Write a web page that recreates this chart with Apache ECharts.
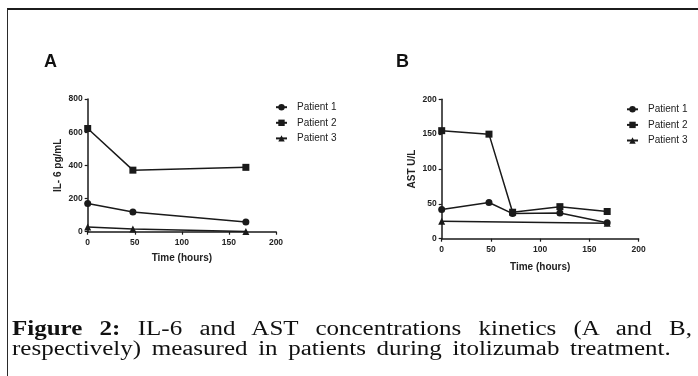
<!DOCTYPE html>
<html>
<head>
<meta charset="utf-8">
<script src="https://cdn.jsdelivr.net/npm/echarts@6/dist/echarts.min.js"></script>
<style>
  html, body { margin: 0; padding: 0; background: #fff; }
  #wrap { position: relative; width: 698px; height: 376px; overflow: hidden; background: #fff; }
  #chart { position: absolute; left: 0; top: 0; width: 698px; height: 376px; }
  #frame { position: absolute; left: 7px; top: 8px; width: 700px; height: 400px;
           border-top: 2px solid #1c1c1c; border-left: 1.5px solid #2a2a2a; pointer-events: none; }
  .cap { position: absolute; left: 12px; width: 544px; font-family: "Liberation Serif", serif;
         font-size: 20px; line-height: 20px; color: #111; word-spacing: 3.5px; white-space: nowrap;
         transform: scaleX(1.25); transform-origin: 0 0; }
  #cap1 { top: 317.5px; text-align: justify; text-align-last: justify; white-space: normal; }
  #cap2 { top: 337.5px; }
</style>
</head>
<body>
<div id="wrap">
  <div id="chart"></div>
  <div id="frame"></div>
  <div class="cap" id="cap1"><b>Figure 2:</b> IL-6 and AST concentrations kinetics (A and B,</div>
  <div class="cap" id="cap2">respectively) measured in patients during itolizumab treatment.</div>
</div>
<script>
// ---- Data ----
const seriesNames = ['Patient 1', 'Patient 2', 'Patient 3'];
const panelTitles = ['A', 'B'];
const xAxisName = 'Time (hours)';
const yAxisNameA = 'IL- 6 pg/mL';
const yAxisNameB = 'AST U/L';

// Panel A: IL-6 (pg/mL) vs time (hours)
const il6Patient1 = [[0, 170], [48, 119], [168, 58]];
const il6Patient2 = [[0, 622], [48, 371], [168, 388]];
const il6Patient3 = [[0, 28], [48, 17], [168, 1]];

// Panel B: AST (U/L) vs time (hours)
const astPatient1 = [[0, 42], [48, 52], [72, 36], [120, 37], [168, 23]];
const astPatient2 = [[0, 155], [48, 150], [72, 38], [120, 46], [168, 39]];
const astPatient3 = [[0, 25], [168, 22]];

const symbols = ['circle', 'rect', 'triangle'];
const symbolSizes = [7, 7, 7];

const chart = echarts.init(document.getElementById('chart'), null, { renderer: 'canvas' });
const INK = '#1a1a1a';
const SANS = 'Liberation Sans, Arial, sans-serif';
const axisFont = { fontFamily: SANS, fontWeight: 'bold', fontSize: 8.5, color: '#222' };
const nameFont = { fontFamily: SANS, fontWeight: 'bold', fontSize: 10, color: '#222' };

function xAxis(gridIndex, gap) {
  return {
    type: 'value', gridIndex, min: 0, max: 200, interval: 50,
    name: xAxisName, nameLocation: 'middle', nameGap: gap, nameTextStyle: nameFont,
    axisLine: { show: true, onZero: false, lineStyle: { color: INK, width: 1.5 } },
    axisTick: { show: true, length: 3, lineStyle: { color: INK, width: 1.2 } },
    axisLabel: Object.assign({ margin: 6.5 }, axisFont),
    splitLine: { show: false }
  };
}
function yAxis(gridIndex, max, interval, name) {
  return {
    type: 'value', gridIndex, min: 0, max, interval,
    name, nameLocation: 'middle', nameGap: 24, nameTextStyle: nameFont,
    axisLine: { show: true, onZero: false, lineStyle: { color: INK, width: 1.5 } },
    axisTick: { show: true, length: 3, lineStyle: { color: INK, width: 1.2 } },
    axisLabel: Object.assign({ margin: 5 }, axisFont),
    splitLine: { show: false }
  };
}
function line(name, data, idx, xi, yi) {
  return {
    type: 'line', name, data, xAxisIndex: xi, yAxisIndex: yi,
    symbol: symbols[idx], symbolSize: symbolSizes[idx], showSymbol: true,
    lineStyle: { color: INK, width: 1.5 }, itemStyle: { color: INK },
    animation: false, z: 3
  };
}
function legend(left, top) {
  return {
    orient: 'vertical', left, top, data: seriesNames, padding: 0,
    itemWidth: 11, itemHeight: 8, itemGap: 5.6,
    textStyle: { fontFamily: SANS, fontSize: 10, color: '#222', padding: [0, 0, 0, 5] },
    selectedMode: false
  };
}

chart.setOption({
  animation: false,
  title: [
    { text: panelTitles[0], left: 44, top: 53.5, textStyle: { fontFamily: SANS, fontWeight: 'bold', fontSize: 18, color: '#111' }, padding: 0 },
    { text: panelTitles[1], left: 396, top: 53.5, textStyle: { fontFamily: SANS, fontWeight: 'bold', fontSize: 18, color: '#111' }, padding: 0 }
  ],
  legend: [legend(275, 102.2), legend(626, 104.3)],
  grid: [
    { left: 87.7, top: 99, width: 188.3, height: 132.7 },
    { left: 441.7, top: 99.3, width: 197, height: 139.4 }
  ],
  xAxis: [xAxis(0, 21.5), xAxis(1, 23.5)],
  yAxis: [yAxis(0, 800, 200, yAxisNameA), yAxis(1, 200, 50, yAxisNameB)],
  series: [
    line(seriesNames[0], il6Patient1, 0, 0, 0),
    line(seriesNames[1], il6Patient2, 1, 0, 0),
    line(seriesNames[2], il6Patient3, 2, 0, 0),
    line(seriesNames[0], astPatient1, 0, 1, 1),
    line(seriesNames[1], astPatient2, 1, 1, 1),
    line(seriesNames[2], astPatient3, 2, 1, 1)
  ]
});
</script>
</body>
</html>
